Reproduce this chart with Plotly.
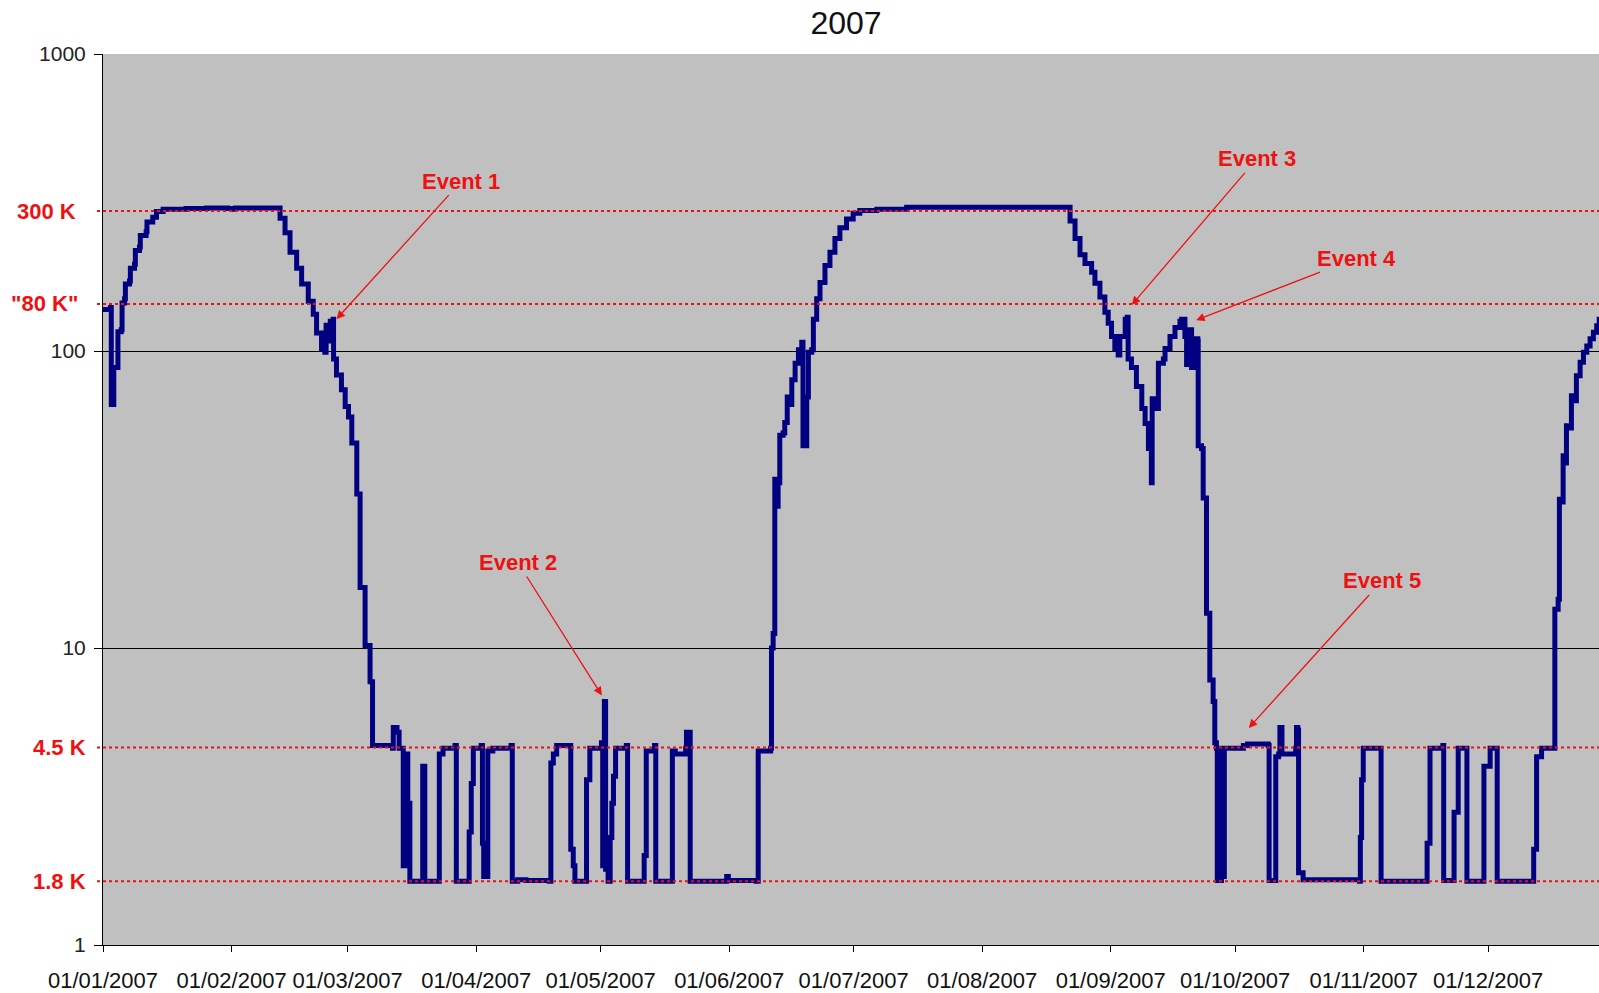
import pandas as pd
import numpy as np
import plotly.graph_objects as go

# ---------------- data ----------------
day_of_year = [
    0.0, 1.8, 2.0, 2.4, 2.6, 3.4, 3.6, 4.4, 4.6, 5.2, 5.4, 6.4, 6.6, 7.6, 7.8, 8.8, 9.0, 10.4, 10.6, 12.0,
    12.9, 14.5, 20, 25, 30, 31, 32, 36, 41.9, 42.7, 43.9, 45.1, 46.7, 47.9, 49.5, 50.7, 51.5, 52.7, 53.5, 53.8,
    54.4, 54.8, 55.5, 55.6, 56.3, 57.5, 58.4, 59.2, 60.0, 61.2, 62.0, 63.2, 64.4, 65.0, 69.8, 70.0, 70.9, 71.4,
    72.2, 72.4, 72.8, 73.2, 73.5, 74.0, 76.8, 77.1, 77.4, 77.6, 80.8, 81.1, 82.0, 84.9, 85.2, 88.0, 88.3, 88.8,
    89.3, 91.2, 91.5, 91.8, 92.1, 92.4, 92.8, 94.0, 98.4, 98.7, 100, 102, 107.6, 108.0, 108.6, 109.4, 112.5,
    112.8, 113.4, 113.8, 116.2, 116.6, 117.4, 119.8, 120.2, 120.5, 120.9, 121.2, 121.5, 121.8, 122.3, 122.7,
    123.1, 123.6, 126.2, 126.5, 130.2, 130.5, 131.0, 133.0, 133.3, 137.0, 137.3, 138.0, 140.5, 140.7, 141.4,
    141.6, 150.0, 150.4, 150.8, 157.5, 158.0, 161.0, 161.2, 161.6, 162.0, 162.5, 162.8, 163.2, 164.0, 164.4,
    165.0, 165.5, 166.1, 166.9, 167.7, 168.5, 168.8, 169.7, 170.1, 170.9, 171.3, 172.1, 172.9, 174.1, 175.3,
    176.5, 177.7, 179.3, 180.9, 182.5, 186.6, 193.8, 200, 215, 232.6, 233.2, 234.4, 235.6, 236.8, 238.4,
    239.2, 240.4, 241.6, 242.4, 243.2, 244.0, 244.8, 245.2, 246.5, 247.0, 247.2, 248.0, 249.2, 250.5, 251.3,
    252.1, 252.8, 253.0, 254.1, 254.5, 255.7, 256.1, 257.3, 258.5, 259.7, 260.1, 260.9, 261.3, 261.7, 262.5,
    263.0, 263.3, 264.0, 264.1, 264.9, 265.3, 266.1, 266.9, 267.7, 268.1, 268.5, 268.7, 269.0, 269.3, 269.7,
    270.0, 270.4, 275, 276, 281.0, 281.2, 282.6, 282.8, 283.5, 283.8, 284.1, 284.3, 287.6, 287.8, 288.1,
    288.3, 289.4, 295, 303.0, 303.2, 303.5, 303.9, 308.0, 308.2, 319.1, 319.3, 320.0, 323.1, 323.3, 325.5,
    325.8, 326.8, 328.7, 328.9, 332.8, 333.0, 334.5, 336.0, 336.2, 344.8, 345.0, 345.7, 346.9, 350.0, 350.1,
    350.9, 351.2, 351.7, 352.1, 352.5, 352.9, 353.6, 354.1, 354.7, 355.3, 356.2, 357.0, 357.8, 358.6, 359.4,
    360.2, 360.8, 361.5,
]
temperature_k = [
    138, 140, 66, 66, 88, 88, 116, 118, 145, 150, 168, 172, 190, 196, 218, 224, 245, 252, 272, 282,
    295, 300, 302, 303, 302, 300, 303, 303, 303, 280, 250, 215, 190, 168, 147, 133, 115, 102, 99, 122,
    108, 126, 128, 94, 83, 74, 65, 60, 49, 33, 16, 10.2, 7.7, 4.7, 4.6, 5.4, 5.2, 4.6,
    4.6, 1.85, 1.85, 4.4, 3.0, 1.64, 1.64, 4.0, 4.0, 1.64, 1.64, 4.4, 4.6, 4.7, 1.64, 1.64, 2.4, 3.5,
    4.6, 4.7, 2.2, 1.7, 2.2, 1.7, 4.5, 4.6, 4.7, 1.64, 1.66, 1.65, 1.64, 4.1, 4.4, 4.7, 4.7,
    2.1, 1.85, 1.64, 1.64, 3.6, 4.6, 4.6, 4.8, 1.85, 6.6, 1.8, 2.1, 1.64, 2.3, 3.0,
    3.7, 4.6, 4.7, 1.64, 1.64, 2.0, 4.5, 4.7, 1.64, 1.64, 4.5, 4.4, 4.6, 5.2, 5.2,
    1.64, 1.64, 1.7, 1.65, 1.64, 4.5, 4.6, 10, 11.2, 37, 30, 36, 52, 53, 57.5,
    70, 66, 80, 91, 101, 107, 48, 70, 99, 101, 128, 150, 170, 194, 215,
    239, 260, 278, 291, 297, 300, 305, 305, 305, 305, 274, 239, 211, 197, 184,
    169, 152, 135, 124, 112, 102, 97, 112, 128, 130, 94, 88, 76, 64, 57,
    47, 36, 69, 64, 91, 94, 102, 112, 120, 126, 128, 112, 90, 118, 88,
    108, 110, 108, 48, 47, 32, 13.1, 7.8, 6.6, 4.8, 4.6, 1.65, 4.6, 1.65, 4.6,
    1.7, 4.6, 4.7, 4.75, 4.7, 1.65, 1.65, 4.3, 4.4, 5.4, 5.4, 4.4, 4.6, 5.4, 5.3,
    1.75, 1.66, 1.66, 1.64, 2.3, 3.6, 4.6, 4.6, 1.64, 1.64, 2.2, 4.6, 4.7, 1.65, 1.65,
    2.8, 4.6, 4.6, 1.64, 1.64, 4.0, 4.6, 4.6, 1.64, 1.64, 2.1, 4.3, 4.6, 4.6, 13.5,
    14.6, 31.7, 31, 44.4, 42, 56, 55, 70.7, 68, 82.6, 91.6, 99, 104, 110, 115.6,
    121.7, 128, 135,
]

ref_levels = [296, 144, 4.62, 1.64]
ref_labels = ["300 K", "\"80 K\"", "4.5 K", "1.8 K"]

event_labels = ["Event 1", "Event 2", "Event 3", "Event 4", "Event 5"]
event_day = [56.3, 120.3, 248.1, 263.6, 276.3]
event_temp = [128, 6.92, 143, 127, 5.38]

y_tick_vals = [1, 10, 100, 1000]
y_tick_text = ["1", "10", "100", "1000"]

x_end_day = 360.75

# ---------------- styles ----------------
RED = "#EE1111"
NAVY = "#000080"
FONT = "Arial, Liberation Sans, sans-serif"
ref_label_xshift = [-25, -23, -15, -15]
event_offsets = [(125, -138), (-84, -133), (125, -146), (160, -62), (133, -147)]

start = pd.Timestamp("2007-01-01")
dates = start + pd.to_timedelta(day_of_year, unit="D")
month_starts = pd.date_range("2007-01-01", periods=12, freq="MS")

fig = go.Figure()
fig.add_trace(go.Scatter(
    x=dates, y=temperature_k, mode="lines",
    line=dict(color=NAVY, width=5, shape="hv"), hoverinfo="skip", showlegend=False,
))

shapes = []
annotations = []
for lvl, lab, xs in zip(ref_levels, ref_labels, ref_label_xshift):
    shapes.append(dict(type="line", xref="paper", yref="y", x0=-0.004, x1=1, y0=lvl, y1=lvl,
                       line=dict(color=RED, width=2, dash="3px,3px"), layer="above"))
    annotations.append(dict(xref="paper", yref="y", x=0, y=np.log10(lvl), text=lab,
                            showarrow=False, xanchor="right", yanchor="middle", xshift=xs,
                            font=dict(family=FONT, size=22, color=RED, weight="bold")))

for lab, d, t, (ax, ay) in zip(event_labels, event_day, event_temp, event_offsets):
    annotations.append(dict(
        xref="x", yref="y", x=start + pd.Timedelta(days=d), y=np.log10(t), text=lab,
        showarrow=True, ax=ax, ay=ay, arrowhead=2, arrowsize=1.3, arrowwidth=1.3,
        arrowcolor=RED, standoff=0, startstandoff=0,
        font=dict(family=FONT, size=22, color=RED, weight="bold"),
    ))

fig.update_layout(
    width=1599, height=993,
    margin=dict(l=103, r=0, t=54, b=48),
    paper_bgcolor="white", plot_bgcolor="#C0C0C0",
    title=dict(text="2007", x=846 / 1599, xref="container", xanchor="center",
               y=1 - 22.5 / 993, yref="container", yanchor="middle",
               font=dict(family=FONT, size=32, color="#111111")),
    shapes=shapes, annotations=annotations,
    xaxis=dict(
        type="date", range=[start, start + pd.Timedelta(days=x_end_day)],
        tickvals=month_starts, ticktext=[d.strftime("%d/%m/%Y") for d in month_starts],
        showgrid=False, zeroline=False, showline=True, linecolor="black", linewidth=1,
        ticks="outside", ticklen=6, tickcolor="black", ticklabelstandoff=10,
        tickfont=dict(family=FONT, size=22, color="#111111"),
    ),
    yaxis=dict(
        type="log", range=[0, 3], tickvals=y_tick_vals, ticktext=y_tick_text,
        showgrid=True, gridcolor="black", gridwidth=1, zeroline=False,
        showline=True, linecolor="black", linewidth=1,
        ticks="outside", ticklen=8, tickcolor="black", ticklabelstandoff=4,
        tickfont=dict(family=FONT, size=21, color="#222222"),
    ),
)

fig.write_html("out.html", config={"displayModeBar": False},
               post_script="document.body.style.margin='0';document.body.style.overflow='hidden';")
